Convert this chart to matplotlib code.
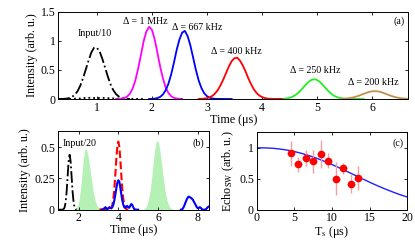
import numpy as np
import matplotlib
matplotlib.use("Agg")
import matplotlib.pyplot as plt

plt.rcParams['font.family'] = ['Liberation Serif', 'DejaVu Serif']
plt.rcParams['mathtext.fontset'] = 'stix'

# ---------------- Panel (a) data ----------------
in10_t = np.round(np.arange(0.30, 1.601, 0.05), 2)
in10_y = [0.0, 0.001, 0.003, 0.007, 0.016, 0.036, 0.073, 0.135, 0.23, 0.36, 0.51, 0.66,
          0.80, 0.88, 0.88, 0.82, 0.69, 0.54, 0.385, 0.25, 0.15, 0.083, 0.042, 0.019,
          0.008, 0.003, 0.001]
in10dot_t = [0.5, 0.6, 0.7, 0.8, 0.9, 1.0, 1.1, 1.2, 1.3, 1.4, 1.5, 1.6, 1.7, 1.85]
in10dot_y = [0.0, 0.005, 0.01, 0.02, 0.02, 0.015, 0.02, 0.015, 0.01, 0.005, 0.005, 0.003, 0.002, 0.0]

mag_t = np.round(np.arange(1.35, 2.551, 0.05), 2)
mag_y = [0.001, 0.002, 0.006, 0.017, 0.041, 0.09, 0.18, 0.32, 0.52, 0.75, 0.99, 1.16, 1.24,
         1.19, 1.03, 0.80, 0.56, 0.36, 0.20, 0.104, 0.048, 0.02, 0.008, 0.003, 0.001]

blu_t = np.round(np.arange(1.95, 3.451, 0.05), 2)
blu_y = [0.001, 0.002, 0.006, 0.016, 0.036, 0.077, 0.149, 0.26, 0.42, 0.62, 0.84, 1.02, 1.14,
         1.17, 1.08, 0.92, 0.71, 0.50, 0.32, 0.19, 0.10, 0.05, 0.022, 0.009, 0.003, 0.001,
         0.002, 0.0, 0.001, 0.0, 0.0]

red_t = np.round(np.arange(2.85, 4.401, 0.05), 2)
red_y = [0.001, 0.003, 0.007, 0.014, 0.029, 0.055, 0.096, 0.157, 0.24, 0.34, 0.45, 0.56, 0.65,
         0.70, 0.71, 0.66, 0.58, 0.48, 0.36, 0.26, 0.17, 0.107, 0.062, 0.033, 0.017, 0.008,
         0.003, 0.002, 0.001, 0.002, 0.001, 0.0]

grn_t = np.round(np.arange(4.40, 5.851, 0.05), 2)
grn_y = [0.005, 0.011, 0.021, 0.037, 0.062, 0.098, 0.143, 0.196, 0.249, 0.296, 0.328, 0.34,
         0.328, 0.296, 0.249, 0.196, 0.143, 0.098, 0.062, 0.037, 0.021, 0.011, 0.005, 0.002,
         0.001, 0.0, 0.002, 0.001, 0.0, 0.0]

brn_t = np.round(np.arange(5.45, 6.651, 0.05), 2)
brn_y = [0.003, 0.006, 0.010, 0.017, 0.026, 0.038, 0.053, 0.071, 0.089, 0.107, 0.122, 0.1316,
         0.135, 0.1316, 0.122, 0.107, 0.089, 0.071, 0.053, 0.038, 0.026, 0.017, 0.010, 0.006,
         0.003]

# ---------------- Panel (b) data ----------------
in20_t = np.round(np.arange(1.00, 1.901, 0.05), 2)
in20_y = [0.0, 0.0, 0.0, 0.0, 0.001, 0.005, 0.019, 0.059, 0.143, 0.267, 0.388, 0.44, 0.388,
          0.267, 0.143, 0.059, 0.019, 0.005, 0.001]

ctl1_t = np.round(np.arange(1.75, 3.151, 0.05), 2)
ctl1_y = [0.001, 0.003, 0.006, 0.015, 0.031, 0.059, 0.103, 0.166, 0.245, 0.332, 0.412, 0.469,
          0.49, 0.48, 0.452, 0.409, 0.356, 0.297, 0.238, 0.184, 0.136, 0.097, 0.066, 0.044,
          0.027, 0.017, 0.010, 0.005, 0.002]

ctl2_t = np.round(np.arange(5.15, 6.801, 0.05), 2)
ctl2_y = [0.001, 0.002, 0.004, 0.007, 0.013, 0.024, 0.042, 0.068, 0.106, 0.157, 0.219, 0.291,
          0.367, 0.44, 0.501, 0.541, 0.555, 0.544, 0.512, 0.463, 0.403, 0.337, 0.27, 0.208,
          0.154, 0.11, 0.075, 0.049, 0.031, 0.019, 0.011, 0.006, 0.003, 0.002]

redb_t = np.round(np.arange(3.05, 4.501, 0.05), 2)
redb_y = [0.003, 0.002, 0.003, 0.004, 0.003, 0.002, 0.003, 0.003, 0.003, 0.003, 0.003,
          0.005, 0.015, 0.038, 0.086, 0.167, 0.28, 0.405, 0.506, 0.545, 0.506, 0.405, 0.28,
          0.167, 0.086, 0.038, 0.015, 0.005, 0.001, 0.0]

blub1_t = np.round(np.arange(3.20, 5.001, 0.05), 2)
blub1_y = [0.0, 0.005, 0.012, 0.02, 0.012, 0.005, 0.01, 0.02, 0.015, 0.012, 0.02, 0.04, 0.075,
           0.12, 0.17, 0.215, 0.235, 0.225, 0.18, 0.125, 0.075, 0.04, 0.02, 0.015, 0.025,
           0.03, 0.02, 0.015, 0.03, 0.045, 0.04, 0.02, 0.005, 0.002, 0.0, 0.0, 0.0]
blub2_t = np.round(np.arange(7.15, 8.551, 0.05), 2)
blub2_y = [0.0, 0.002, 0.01, 0.025, 0.045, 0.065, 0.085, 0.098, 0.105, 0.10, 0.095, 0.088,
           0.08, 0.065, 0.05, 0.035, 0.02, 0.012, 0.015, 0.02, 0.015, 0.005, 0.0, 0.0, 0.0,
           0.003, 0.01, 0.02, 0.025]

# ---------------- Panel (c) data ----------------
ts_pts = [4.5, 5.5, 6.5, 7.5, 8.5, 9.5, 10.5, 11.5, 12.5, 13.5]
echo_pts = [0.91, 0.73, 0.84, 0.78, 0.90, 0.79, 0.50, 0.67, 0.42, 0.51]
echo_err = [0.20, 0.12, 0.13, 0.19, 0.22, 0.12, 0.27, 0.09, 0.15, 0.20]
ts_err = [0.5] * 10
fit_t = list(range(0, 21))
fit_y = [1.0, 0.998, 0.993, 0.981, 0.963, 0.939, 0.908, 0.871, 0.829, 0.781, 0.729, 0.674,
         0.617, 0.559, 0.501, 0.443, 0.389, 0.337, 0.289, 0.244, 0.204]

# ---------------- Figure ----------------
fig = plt.figure(figsize=(4.15, 2.4), dpi=100)
axa = fig.add_axes([0.1405, 0.5875, 0.8434, 0.3638])
axb = fig.add_axes([0.1390, 0.1263, 0.3640, 0.3280])
axc = fig.add_axes([0.6186, 0.1263, 0.3629, 0.3225])

TICK = 8.5
LAB = 8.7
ANN = 7.2
LW = 1.3

for ax in (axa, axb, axc):
    ax.tick_params(direction='in', top=True, right=True, length=2.5, width=0.6,
                   labelsize=TICK, pad=2)
    for s in ax.spines.values():
        s.set_linewidth(0.7)

# Panel (a)
axa.plot(in10_t, in10_y, color='black', ls='-.', lw=LW)
axa.plot(in10dot_t, in10dot_y, color='black', ls=':', lw=LW)
axa.plot(mag_t, mag_y, color='#ff00ff', lw=LW)
axa.plot(blu_t, blu_y, color='#0000ff', lw=LW)
axa.plot(red_t, red_y, color='#ff0000', lw=LW)
axa.plot(grn_t, grn_y, color='#22ee22', lw=LW)
axa.plot(brn_t, brn_y, color='#c0904a', lw=LW)
axa.set_xlim(0.3, 6.66)
axa.set_ylim(0, 1.5)
axa.set_xticks([1, 2, 3, 4, 5, 6])
axa.set_yticks([0, 0.5, 1, 1.5])
axa.set_yticklabels(['0', '0.5', '1', '1.5'])
axa.set_xlabel('Time (μs)', fontsize=LAB, labelpad=0)
axa.set_ylabel('Intensity (arb. u.)', fontsize=LAB, labelpad=2)
axa.text(0.97, 1.13, 'Input/10', fontsize=ANN, ha='center', va='center')
axa.text(1.88, 1.34, 'Δ = 1 MHz', fontsize=ANN, ha='center', va='center')
axa.text(2.83, 1.23, 'Δ = 667 kHz', fontsize=ANN, ha='center', va='center')
axa.text(3.53, 0.81, 'Δ = 400 kHz', fontsize=ANN, ha='center', va='center')
axa.text(4.97, 0.49, 'Δ = 250 kHz', fontsize=ANN, ha='center', va='center')
axa.text(6.02, 0.28, 'Δ = 200 kHz', fontsize=ANN, ha='center', va='center')
axa.text(6.5, 1.33, '(a)', fontsize=ANN, ha='center', va='center')

# Panel (b)
axb.fill_between(ctl1_t, ctl1_y, color='#b5f0b5', lw=0)
axb.fill_between(ctl2_t, ctl2_y, color='#b5f0b5', lw=0)
axb.plot(in20_t, in20_y, color='black', ls='-.', lw=LW)
axb.plot(redb_t, redb_y, color='#ff0000', ls='--', lw=LW + 0.2)
axb.plot(blub1_t, blub1_y, color='#0000ff', lw=LW + 0.2)
axb.plot(blub2_t, blub2_y, color='#0000ff', lw=LW + 0.2)
axb.set_xlim(0.95, 8.55)
axb.set_ylim(0, 0.63)
axb.set_xticks([2, 4, 6, 8])
axb.set_yticks([0, 0.25, 0.5])
axb.set_yticklabels(['0', '0.25', '0.5'])
axb.set_xlabel('Time (μs)', fontsize=LAB, labelpad=0)
axb.set_ylabel('Intensity (arb. u.)', fontsize=LAB, labelpad=2)
axb.text(2.05, 0.53, 'Input/20', fontsize=ANN, ha='center', va='center')
axb.text(8.05, 0.53, '(b)', fontsize=ANN, ha='center', va='center')

# Panel (c)
axc.plot(fit_t, fit_y, color='#2020ff', lw=1.0)
axc.errorbar(ts_pts, echo_pts, yerr=echo_err, xerr=ts_err, fmt='o', color='#ff0000',
             ms=4.5, ecolor='#f4a0a0', elinewidth=1.0, capsize=0, zorder=3)
axc.set_xlim(0, 20)
axc.set_ylim(0, 1.25)
axc.set_xticks([0, 5, 10, 15, 20])
axc.set_yticks([0, 0.5, 1])
axc.set_yticklabels(['0', '0.5', '1'])
axc.set_xlabel(r'T$_{\rm s}$ (μs)', fontsize=LAB, labelpad=0)
axc.set_ylabel(r'Echo$_{\rm SW}$ (arb. u.)', fontsize=LAB, labelpad=2)
axc.text(18.8, 1.08, '(c)', fontsize=ANN, ha='center', va='center')

fig.savefig('out.png', dpi=100)
